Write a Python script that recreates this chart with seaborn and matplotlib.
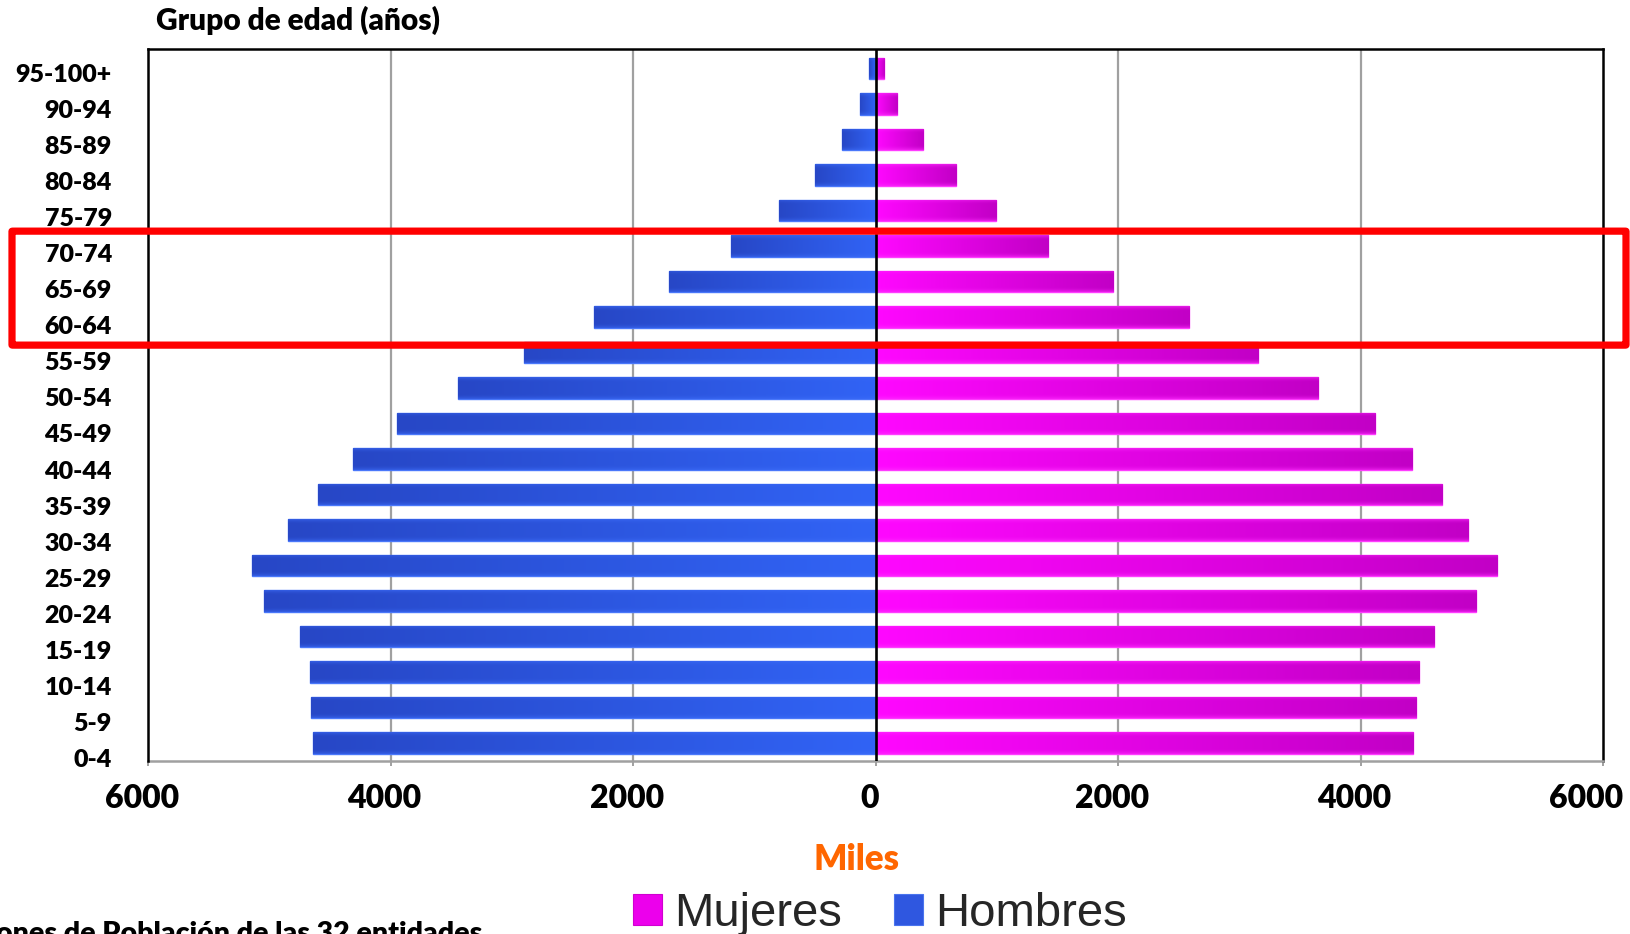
import numpy as np
import pandas as pd
import matplotlib
matplotlib.use("Agg")
import matplotlib.pyplot as plt
import matplotlib.colors as mcolors
import matplotlib.transforms as mtransforms
from matplotlib.patches import Patch, FancyBboxPatch
from matplotlib.ticker import FixedLocator, FuncFormatter
import seaborn as sns

# Age groups, oldest at the top
grupos = ['95-100+', '90-94', '85-89', '80-84', '75-79', '70-74', '65-69',
          '60-64', '55-59', '50-54', '45-49', '40-44', '35-39', '30-34',
          '25-29', '20-24', '15-19', '10-14', '5-9', '0-4']

# Population in thousands
hombres = [55, 126, 278, 503, 800, 1192, 1700, 2318, 2899, 3443, 3943, 4310,
           4594, 4843, 5140, 5047, 4750, 4668, 4654, 4643]
mujeres = [74, 179, 393, 668, 997, 1422, 1959, 2588, 3155, 3651, 4116, 4426,
           4673, 4887, 5126, 4956, 4604, 4481, 4459, 4434]

x_ticks = [-6000, -4000, -2000, 0, 2000, 4000, 6000]
resaltados = ['70-74', '65-69', '60-64']

AZUL = '#2d55dc'
MAGENTA = '#e600e6'
PESO = 'heavy'

df = pd.DataFrame({'grupo': grupos,
                   'hombres': -np.array(hombres, dtype=float),
                   'mujeres': np.array(mujeres, dtype=float)})

sns.set_theme(style='white')
plt.rcParams['font.family'] = ['Lato', 'DejaVu Sans']
plt.rcParams['font.weight'] = 'bold'

W, H = 1630, 934
fig = plt.figure(figsize=(W / 100, H / 100), dpi=100, facecolor='white')
ax = fig.add_axes([148 / W, 1 - 761 / H, (1603 - 148) / W, (761 - 49) / H])
ax.set_facecolor('white')

sns.barplot(data=df, x='hombres', y='grupo', order=grupos, orient='h',
            color=AZUL, saturation=1, width=0.6, ax=ax,
            edgecolor='#4a78fa', linewidth=1.0, zorder=3)
sns.barplot(data=df, x='mujeres', y='grupo', order=grupos, orient='h',
            color=MAGENTA, saturation=1, width=0.6, ax=ax,
            edgecolor='#ff3cff', linewidth=1.0, zorder=3)


def sombrear(patch, c_ext, c_int, c_borde):
    """Fill a bar with a soft gradient clipped to its outline."""
    bb = patch.get_bbox()
    x0, x1 = min(bb.x0, bb.x1), max(bb.x0, bb.x1)
    y0, y1 = min(bb.y0, bb.y1), max(bb.y0, bb.y1)
    n, m = 96, 24
    t = np.linspace(0, 1, n)
    if bb.x0 + bb.x1 < 0:      # left-hand bar: outer end at the left
        t_h = t
    else:                      # right-hand bar: outer end at the right
        t_h = t[::-1]
    ce = np.array(mcolors.to_rgb(c_ext))
    ci = np.array(mcolors.to_rgb(c_int))
    cb = np.array(mcolors.to_rgb(c_borde))
    base = ce[None, :] + (ci - ce)[None, :] * t_h[:, None]
    v = np.abs(np.linspace(-1, 1, m))
    k = (np.clip((v - 0.55) / 0.45, 0, 1) ** 2)[:, None, None] * 0.55
    img = base[None, :, :] * (1 - k) + cb[None, None, :] * k
    im = ax.imshow(img, extent=(x0, x1, y1, y0), aspect='auto',
                   interpolation='bilinear', zorder=3.5)
    im.set_clip_path(patch)


barras = list(ax.patches)
n = len(grupos)
for p in barras[:n]:
    sombrear(p, '#2747c6', '#3163f5', '#3d6df8')
for p in barras[n:2 * n]:
    sombrear(p, '#c200c6', '#ff08ff', '#ff30ff')

# axis ranges
ax.set_xlim(-6000, 6000)
ax.set_ylim(19.504, -0.552)

# vertical grid and centre line
for xv in x_ticks[1:-1]:
    if xv == 0:
        continue
    ax.axvline(xv, color='#a0a0a0', lw=1.6, zorder=1)
ax.axvline(0, color='black', lw=1.9, zorder=5)

# spines
for side in ['top', 'left', 'right']:
    ax.spines[side].set_color('black')
    ax.spines[side].set_linewidth(1.8)
    ax.spines[side].set_visible(True)
ax.spines['bottom'].set_color('#a0a0a0')
ax.spines['bottom'].set_linewidth(1.8)
ax.spines['bottom'].set_visible(True)
ax.spines['left'].set_zorder(6)

ax.xaxis.set_major_locator(FixedLocator(x_ticks))
ax.xaxis.set_major_formatter(FuncFormatter(lambda v, pos: f'{abs(int(v))}'))
ax.tick_params(axis='x', which='major', bottom=True, direction='out',
               length=3.6, width=1.4, color='#a0a0a0', pad=13,
               labelsize=23, labelcolor='black')
fig.canvas.draw()
etiquetas_x = ax.get_xticklabels()
for i, lab in enumerate(etiquetas_x):
    lab.set_fontweight(PESO)
    dx = -17 if i == len(etiquetas_x) - 1 else -6
    lab.set_transform(lab.get_transform() +
                      mtransforms.ScaledTranslation(dx / 100, 0, fig.dpi_scale_trans))
ax.set_yticks([])
ax.set_xlabel('')
ax.set_ylabel('')

# age-group labels on their own scale
ax2 = ax.twinx()
ax2.set_ylim(19.08, -0.66)
ax2.yaxis.tick_left()
ax2.set_yticks(range(n))
ax2.set_yticklabels(grupos, fontsize=18, fontweight=PESO, color='black')
ax2.tick_params(axis='y', length=0, pad=26)
for s in ax2.spines.values():
    s.set_visible(False)
ax2.grid(False)
ax.grid(False)

# highlight frame around the selected age groups
pos = [grupos.index(g) for g in resaltados]
trans = mtransforms.blended_transform_factory(fig.transFigure, ax2.transData)
y_a = min(pos) - 0.61
y_b = max(pos) + 0.55
marco = FancyBboxPatch((12 / W, y_a), (1626 - 12) / W, y_b - y_a,
                       boxstyle='round,pad=0,rounding_size=0.002',
                       transform=trans, fill=False, edgecolor='#ff0000',
                       linewidth=5.2, zorder=10, clip_on=False,
                       joinstyle='round')
fig.patches.append(marco)

# texts
fig.text(156 / W, 1 - 20 / H, 'Grupo de edad (años)', ha='left', va='center',
         fontsize=21.5, fontweight=PESO, color='black')
fig.text(857 / W, 1 - 859 / H, 'Miles', ha='center', va='center',
         fontsize=25, fontweight=PESO, color='#ff6600')
fig.text(482 / W, 1 - 921 / H, 'Proyecciones de Población de las 32 entidades',
         ha='right', va='top', fontsize=20.5, fontweight=PESO, color='black')

handles = [Patch(facecolor='#ec00ec', edgecolor='#d000d0', linewidth=0.8),
           Patch(facecolor='#2f57e0', edgecolor='#4a74ee', linewidth=0.8)]
fig.legend(handles, ['Mujeres', 'Hombres'], loc='center',
           bbox_to_anchor=(880 / W, 1 - 914 / H), ncol=2, frameon=False,
           prop={'family': 'Liberation Sans', 'size': 34, 'weight': 'normal'},
           handlelength=0.62, handleheight=0.62, handletextpad=0.25,
           columnspacing=1.1, borderpad=0, borderaxespad=0)

fig.savefig('out.png', dpi=100, facecolor='white')
